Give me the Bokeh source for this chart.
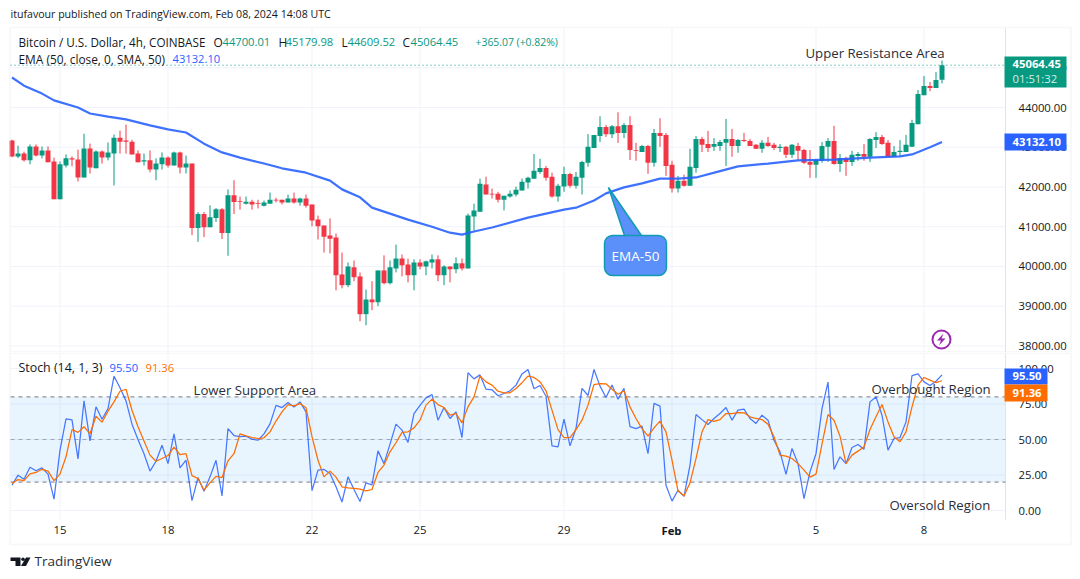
from bokeh.embed import file_html
from bokeh.layouts import column
from bokeh.models import (ColumnDataSource, Range1d, FixedTicker, LinearAxis, Label,
                          BoxAnnotation, PolyAnnotation, NumeralTickFormatter)
from bokeh.plotting import figure
from bokeh.resources import INLINE

# ---------------- data ----------------
opens = [43170,42770,42840,42670,43020,42790,42920,42640,41690,42540,42720,42690,42240,42970,42470,42890,42740,42840,43240,43170,
         43140,42840,42640,42670,42440,42570,42740,42540,42870,42490,42590,40970,41320,40990,41220,41440,40840,41790,41640,41580,
         41630,41590,41530,41580,41680,41680,41610,41710,41610,41710,41560,41180,41030,40780,40730,39800,39530,39980,39750,38800,
         39170,39100,39900,39580,39950,40200,40050,39780,40100,40000,40100,40180,39780,40000,39930,40080,39950,41260,41380,42060,
         41830,41830,41680,41760,41810,41910,42110,42210,42380,42480,42260,41760,42010,42330,42030,42230,42610,42980,43280,43510,
         43330,43530,43360,43560,42930,42880,43030,42610,43360,43310,42560,41960,42160,42030,42480,43210,43080,43010,43030,43110,
         43210,43030,43180,43160,43060,42960,43110,43060,42980,43010,42810,43030,42930,42630,42560,42660,43010,43160,42580,42730,
         42630,42780,42830,42760,43180,43260,43110,42760,42880,42880,43010,43580,44310,44540,44490,44700.01]
highs = [43190,43040,42890,43070,43070,43020,43020,42740,42640,42820,42770,42940,43340,43090,42920,42920,43120,43320,43420,43570,
         43190,42920,42840,42920,42720,42870,42770,42890,42890,42790,42590,41370,41370,41540,41470,41470,41940,42170,41760,41760,
         41680,41680,41660,41860,41730,41680,41810,41860,41730,41810,41560,41280,41030,41210,40830,40350,40100,40150,39850,39420,
         39630,39900,40280,40150,40550,40300,40200,40180,40180,40150,40300,40280,40030,40000,40230,40200,41330,41580,42210,42260,
         41960,41880,41780,41910,42010,42210,42260,42830,42710,42530,42360,42080,42510,42360,42380,42660,43330,43310,43780,43560,
         43560,43880,43610,43780,43110,43060,43060,43460,43730,43360,42660,42280,42310,42960,43280,43260,43410,43230,43180,43710,
         43460,43210,43360,43210,43080,43180,43260,43110,43080,43030,43080,43110,42960,42930,42710,43130,43230,43540,42830,42760,
         42910,42880,43080,43230,43380,43310,43180,43030,43180,43310,43690,44440,44790,44640,44890,45179.98]
lows = [42750,42730,42640,42570,42770,42720,42620,41690,41690,42490,42520,42140,42240,42340,42470,42590,42670,42040,42840,42840,
        42820,42620,42540,42370,42170,42440,42490,42540,42340,42340,40790,40620,40740,40990,41120,40690,40270,41320,41430,41560,
        41430,41460,41510,41580,41610,41560,41610,41580,41530,41480,41010,40680,40350,40330,39400,39450,39480,39630,38620,38520,
        38900,39000,39550,39550,39850,39750,39600,39400,39930,39780,39950,39630,39530,39600,39830,39900,39950,40900,41380,41810,
        41710,41610,41410,41730,41760,41910,41960,42210,42330,42160,41730,41630,41880,41980,41960,41810,42510,42980,43130,43260,
        43230,43110,43230,42680,42660,42880,42330,42510,43010,42280,41860,41860,42010,42030,42360,42880,42880,42910,42910,42530,
        42760,42860,43130,43030,42960,42860,43010,42930,42880,42730,42730,42680,42580,42230,42230,42610,42630,42560,42380,42280,
        42530,42660,42660,42630,42980,43060,42760,42760,42780,42880,43010,43580,44310,44410,44490,44609.52]
closes = [42770,42840,42670,43020,42790,42920,42620,41690,42570,42720,42690,42240,42970,42490,42890,42740,42870,43240,43140,43140,
          42820,42620,42670,42440,42590,42740,42540,42870,42490,42590,40970,41320,40990,41240,41440,40840,41790,41620,41620,41630,
          41560,41570,41610,41680,41660,41610,41710,41610,41710,41530,41160,41010,40750,40700,39780,39530,40000,39730,38800,39170,
          39100,39900,39580,39980,40200,40030,39780,40100,40000,40130,40180,39780,40000,39930,40080,39950,41280,41410,42080,41810,
          41810,41680,41780,41830,41930,42130,42230,42410,42480,42230,41760,42030,42330,42030,42260,42630,43010,43310,43510,43330,
          43530,43360,43560,42930,42910,43030,42610,43360,43280,42530,41960,42160,42030,42510,43210,43060,42980,43080,43130,43210,
          43030,43180,43160,43030,42960,43110,43030,42980,43010,42810,43060,42910,42610,42560,42680,43030,43160,42580,42730,42630,
          42810,42830,42760,43210,43260,43080,42760,42880,42910,43060,43610,44340,44540,44490,44690,45064.45]

ema_bar = [0,2,5,7,11,13,16,19,23,26,29,32,35,38,42,45,49,53,55,58,60,63,66,70,73,75,77,80,86,92,94,97,99,102,105,108,111,114,118,121,126,131,137,143,148,150,153,155]
ema_val = [44755,44550,44350,44180,44000,43850,43770,43700,43550,43450,43370,43090,42870,42740,42590,42470,42360,42160,41940,41740,
           41480,41330,41180,41000,40850,40800,40880,40980,41230,41430,41480,41660,41840,41990,42090,42210,42210,42240,42400,42520,
           42590,42670,42690,42740,42770,42820,43000,43132.1]

stoch_k = [17.8,24.9,22,30.5,28,30,25.6,8,42.5,64.6,63.8,36.4,77.2,49,73,64.3,71.8,94.6,86.4,77.2,
           60.8,50,40,27.7,34.7,46,33,54,30,35.4,7,23.2,13.6,23.7,35.4,10.3,57.7,52.8,52,52.3,
           50.2,49.5,54,61,74,72.5,76,72.8,76.5,69.5,14,28.4,28.9,26,16.7,6,23.7,14.8,6.3,19.5,
           18,42,33,46.7,60.8,56.6,47.9,68.3,74,79.3,81.7,63.6,72.5,64.8,69.5,51.4,97,92.7,95.5,85.4,
           85,80.8,82.4,84.3,88.3,96.2,99.3,85.7,88,80.5,45.5,44.8,64.3,45.5,57.7,86,81,99.3,87.6,79.6,
           88.3,78.4,86,59,57.7,59.4,40,75.4,73.5,17.8,6.6,14.3,10,32,67.6,64,60.6,64.8,68.3,72.5,
           63.6,70.7,71.4,64.8,61.3,67.1,63.6,49.5,41.3,25.4,43.7,33,8.4,27.2,40,71.8,90.4,28.9,37.8,33,
           44.4,46.5,43.2,76.5,80,67.1,42.5,50.7,51.4,62.4,95,96.2,90.6,88,91,95.5]
stoch_d = [19,21.8,21,25.8,26.8,29,27.7,21,25.6,37.8,57,55,59,54,66.4,62.2,70,76.5,84,85.4,
           70.6,59,49,39,34.7,36.6,38.7,44.6,39.4,40,24.6,22.5,14.3,19.5,24,23.2,35,40,54,52.6,
           51.4,50.7,51.2,55.4,63,69.5,74.6,73.7,75.3,72.3,52,35.4,23.7,27.7,23.5,16.7,16,15.5,15,13.8,
           14.8,26.8,32,41.3,47.7,55,55.4,58.2,63.6,74.2,78.4,74.6,72.5,67.1,68.3,61.7,73,80,94.8,90.6,
           88.3,84,82.9,82.9,85.9,90,94.6,93.7,90.6,84.3,70.7,57,51.4,51.4,57,63.6,74.2,88.7,89.4,89.2,
           85.4,81.9,84.3,73,64.8,57.7,52.3,58.2,62.9,55.4,35.4,13.8,10.3,19.5,36.6,55.4,64,62.7,64,68.3,
           68.3,69,68.8,66,64.8,64,60.8,51.9,39,38.3,36.6,33,28.4,23.5,25.6,46.7,67.6,63.6,52.3,33,
           39,41.8,44.8,57,66,74.6,62.4,51.9,48.4,55.4,73,88.3,93.7,91.8,90,91.36]

date_ticks = [8,26,50,68,92,110,134,152]
date_labels = ["15","18","22","25","29","","5","8"]
price_ticks = [38000,39000,40000,41000,42000,43000,44000,45000]
stoch_ticks = [0,25,50,75,100]
stoch_levels = [80,50,20]
# ------------------------------------------------------------

assert all(len(a) == 156 for a in (opens, highs, lows, closes, stoch_k, stoch_d)), [len(a) for a in (opens, highs, lows, closes, stoch_k, stoch_d)]

UP, DOWN = "#089981", "#f23645"
BLUE, ORANGE = "#2962ff", "#ff6d00"
GRID, EDGE = "#f0f3fa", "#e8e9f1"
TXT = "#131722"
DIM = "#2a2e39"
FONT = "Open Sans"
FULL_W = 1072
SPLIT = 352
FULL_H = 575
AXIS_X = 1005

bars = list(range(156))
fx = lambda px: (px - 11.5) / 6
fy = lambda py: 44000 - (py - 107) * 25.16
gy = lambda py: (510 - py) / 1.42

src = ColumnDataSource(dict(
    x=bars, h=highs, l=lows,
    top=[max(a, b) for a, b in zip(opens, closes)],
    bot=[min(a, b) for a, b in zip(opens, closes)],
    col=[UP if b >= a else DOWN for a, b in zip(opens, closes)],
))

def base(h, yr, ticks):
    f = figure(frame_width=FULL_W, frame_height=h, min_border=0, x_range=Range1d(fx(0), fx(FULL_W)), y_range=yr,
               output_backend="svg", toolbar_location=None, x_axis_location=None, y_axis_location="right",
               background_fill_color="white", border_fill_color="white")
    f.outline_line_color = None
    f.grid.visible = False
    ax = f.yaxis[0]
    ax.ticker = FixedTicker(ticks=ticks)
    ax.major_tick_line_color = None
    ax.minor_tick_line_color = None
    ax.axis_line_color = None
    ax.major_label_text_color = TXT
    ax.major_label_text_font = FONT
    ax.major_label_text_font_size = "11.3px"
    ax.major_label_standoff = 1012 - FULL_W
    ax.formatter = NumeralTickFormatter(format="0.00")
    return f

def gridlines(f, ys, top, bottom):
    f.segment([fx(10)] * len(ys), ys, [fx(AXIS_X)] * len(ys), ys, line_color=GRID, line_width=1, level="underlay")
    f.segment(date_ticks, [top] * len(date_ticks), date_ticks, [bottom] * len(date_ticks), line_color=GRID, line_width=1, level="underlay")
    f.segment([fx(AXIS_X)], [top], [fx(AXIS_X)], [bottom], line_color="#e0e3eb", line_width=1)

def text(f, s, px, y, color=TXT, size="11.9px", align="left", style="normal"):
    one_px = (f.y_range.end - f.y_range.start) / f.frame_height
    f.add_layout(Label(x=fx(px), y=y + one_px, text=s, text_color=color, text_font=FONT, text_font_size=size,
                       text_align=align, text_baseline="middle", text_font_style=style))

def tag(f, left, right, top, bottom, color):
    f.add_layout(BoxAnnotation(left=fx(left), right=fx(right), top=top, bottom=bottom, fill_color=color, fill_alpha=1, line_color=None))

# ---- price pane ----
p = base(SPLIT, Range1d(fy(SPLIT), fy(0)), price_ticks)
gridlines(p, price_ticks, fy(28), fy(SPLIT))
p.add_layout(PolyAnnotation(xs=[fx(9.5), fx(1070.5), fx(1070.5), fx(9.5)], ys=[fy(27), fy(27), fy(351.5), fy(351.5)],
                            fill_alpha=0, line_color=EDGE, line_width=2))
p.segment("x", "h", "x", "l", source=src, color="col", line_width=1)
p.vbar("x", 0.83, "top", "bot", source=src, fill_color="col", line_color=None)
p.line(ema_bar, ema_val, line_color=BLUE, line_width=2.2, line_alpha=0.9)
p.line([fx(10), fx(AXIS_X)], [closes[-1], closes[-1]], line_color=UP, line_dash=[1, 3], line_width=1)

# callout
p.patch([fx(608), fx(625), fx(643)], [fy(187), fy(238), fy(238)], fill_color="#5b8ff9", line_color="#0f9bb0", line_width=1.5)
p.add_layout(Label(x=fx(635), y=fy(255), text="EMA-50", text_color="white", text_font=FONT, text_font_size="13.5px",
                   text_align="center", text_baseline="middle", background_fill_color="#5b8ff9",
                   border_line_color="#0f9bb0", border_line_width=1.5, border_radius=8, padding=(7, 11)))
# cycle icon
p.scatter([fx(941)], [fy(339)], marker="circle", size=18, fill_color="white", line_color="#9c27b0", line_width=2)
p.patch([fx(943), fx(936.5), fx(940.5), fx(938.5), fx(945), fx(941)],
        [fy(333), fy(340), fy(340), fy(345), fy(338), fy(338)], fill_color="#9c27b0", line_color=None)

text(p, "itufavour published on TradingView.com, Feb 08, 2024 14:08 UTC", 10, fy(14), size="10.6px")
text(p, "Bitcoin / U.S. Dollar, 4h, COINBASE", 18, fy(42), size="11.7px")
text(p, "O", 213, fy(42))
text(p, "44700.01", 222, fy(42), UP, "11.2px")
text(p, "H", 278, fy(42))
text(p, "45179.98", 285, fy(42), UP, "11.2px")
text(p, "L", 341, fy(42))
text(p, "44609.52", 347, fy(42), UP, "11.2px")
text(p, "C", 402, fy(42))
text(p, "45064.45", 410, fy(42), UP, "11.2px")
text(p, "+365.07 (+0.82%)", 475, fy(42), UP, "10.4px")
text(p, "EMA (50, close, 0, SMA, 50)", 18, fy(59))
text(p, "43132.10", 172, fy(59), BLUE, "11.2px")
text(p, "Upper Resistance Area", 805, fy(53), DIM, "13.2px")
# price tags
tag(p, 1004, 1066, fy(56), fy(87), UP)
text(p, "45064.45", 1012, fy(64), "white", "11.3px", style="bold")
text(p, "01:51:32", 1012, fy(79), "#d5eee9", "11.3px")
tag(p, 1004, 1066, fy(133), fy(150), BLUE)
text(p, "43132.10", 1012, fy(142), "white", "11.3px", style="bold")

# ---- stochastic pane ----
q = base(FULL_H - SPLIT, Range1d(gy(FULL_H), gy(SPLIT)), stoch_ticks)
gridlines(q, stoch_ticks, gy(353), gy(519))
xa = LinearAxis(ticker=FixedTicker(ticks=date_ticks),
                major_label_overrides=dict(zip(date_ticks, date_labels)),
                major_tick_line_color=None, minor_tick_line_color=None, axis_line_color=None,
                major_label_text_color=TXT, major_label_text_font=FONT, major_label_text_font_size="11.3px",
                major_label_standoff=519 - FULL_H)
q.add_layout(xa, "below")
q.add_layout(PolyAnnotation(xs=[fx(9.5), fx(1070.5), fx(1070.5), fx(9.5)], ys=[gy(352.5), gy(352.5), gy(544), gy(544)],
                            fill_alpha=0, line_color=EDGE, line_width=2))
q.add_layout(BoxAnnotation(left=fx(10), right=fx(AXIS_X), bottom=stoch_levels[2], top=stoch_levels[0],
                           fill_color="#2196f3", fill_alpha=0.1, line_color=None, level="underlay"))
for lvl, alpha in zip(stoch_levels, (1, 0.6, 1)):
    q.line([fx(10), fx(AXIS_X)], [lvl, lvl], line_color="#787b86", line_dash=[4, 4], line_width=1, line_alpha=alpha)
q.line(bars, stoch_k, line_color=BLUE, line_width=1.25, line_alpha=0.85)
q.line(bars, stoch_d, line_color=ORANGE, line_width=1.25)

text(q, "Stoch (14, 1, 3)", 18, gy(368), size="12.4px")
text(q, "95.50", 109, gy(368), BLUE, "11.2px")
text(q, "91.36", 145, gy(368), ORANGE, "11.2px")
text(q, "Lower Support Area", 193, gy(390), DIM, "13.2px")
text(q, "Overbought Region", 871, gy(389), DIM, "13.2px")
text(q, "Oversold Region", 889, gy(505), DIM, "13.2px")
tag(q, 1004, 1047, gy(368), gy(384), BLUE)
tag(q, 1004, 1047, gy(384), gy(401), ORANGE)
text(q, "95.50", 1012, gy(376), "white", "11.3px", style="bold")
text(q, "91.36", 1012, gy(393), "white", "11.3px", style="bold")
text(q, "Feb", 671, gy(531), TXT, "11.3px", align="center", style="bold")
# footer
q.patch([fx(10), fx(20), fx(20), fx(15), fx(15), fx(10)],
        [gy(557), gy(557), gy(565.5), gy(565.5), gy(560.5), gy(560.5)], fill_color=TXT, line_color=None)
q.patch([fx(25.5), fx(30), fx(25.5), fx(20.5)], [gy(557), gy(557), gy(565.5), gy(565.5)], fill_color=TXT, line_color=None)
q.scatter([fx(22.5)], [gy(558.7)], marker="circle", size=3.5, fill_color=TXT, line_color=None)
text(q, "TradingView", 34, gy(561.5), DIM, "13.5px")

open("out.html", "w").write(file_html(column(p, q, spacing=0), INLINE))
